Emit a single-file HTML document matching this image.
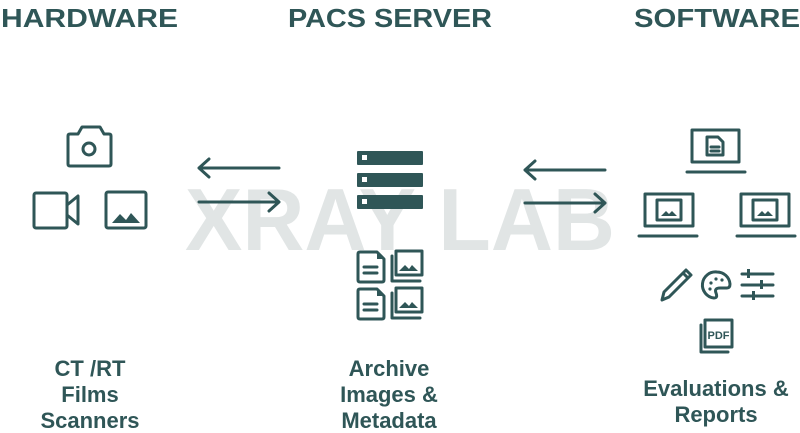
<!DOCTYPE html>
<html><head><meta charset="utf-8"><style>
html,body{margin:0;padding:0;background:#fff;}
svg{display:block;}
text{font-family:"Liberation Sans Narrow","Liberation Sans",sans-serif;font-weight:bold;fill:#2f5657;}
</style></head><body>
<svg width="800" height="433" viewBox="0 0 800 433" xmlns="http://www.w3.org/2000/svg">
<text x="185" y="250" font-size="88" textLength="430" lengthAdjust="spacingAndGlyphs" style="fill:#e1e5e5;font-family:'Liberation Sans',sans-serif">XRAY LAB</text>
<text x="1" y="27" font-size="26" textLength="177" lengthAdjust="spacingAndGlyphs">HARDWARE</text>
<text x="288" y="27" font-size="26" textLength="204" lengthAdjust="spacingAndGlyphs">PACS SERVER</text>
<text x="634" y="27" font-size="26" textLength="166" lengthAdjust="spacingAndGlyphs">SOFTWARE</text>
<g font-size="22" text-anchor="middle">
<text x="90" y="376">CT /RT</text>
<text x="90" y="402">Films</text>
<text x="90" y="428">Scanners</text>
<text x="389" y="376">Archive</text>
<text x="389" y="402">Images &amp;</text>
<text x="389" y="428">Metadata</text>
<text x="716" y="396">Evaluations &amp;</text>
<text x="716" y="422">Reports</text>
</g>
<g fill="none" stroke="#2f5657" stroke-width="3" stroke-linecap="round" stroke-linejoin="round">
<path d="M70 134 H78 L82 127 H100 L104 134 H109 Q111 134 111 136 V164 Q111 166 109 166 H70 Q68 166 68 164 V136 Q68 134 70 134Z"/>
<circle cx="89" cy="149" r="6"/>
<rect x="34" y="193" width="33" height="35" rx="2"/>
<path d="M67 205 L78 196 V224 L67 215"/>
<rect x="106" y="192" width="40" height="36" rx="2"/>
<path d="M279 168 H199 M209 159 L199 168 L209 177"/>
<path d="M199 202 H279 M269 193 L279 202 L269 211"/>
<path d="M605 170 H525 M535 161 L525 170 L535 179"/>
<path d="M525 203 H605 M595 194 L605 203 L595 212"/>
<path d="M360 252 H377 L384 259 V280 Q384 282 382 282 H360 Q358 282 358 280 V254 Q358 252 360 252Z"/>
<path d="M364 267 H377 M364 273 H377"/>
<path d="M360 289 H377 L384 296 V317 Q384 319 382 319 H360 Q358 319 358 317 V291 Q358 289 360 289Z"/>
<path d="M364 304 H377 M364 310 H377"/>
<rect x="396" y="251" width="26" height="24"/>
<path d="M392 256 V281 H420"/>
<rect x="396" y="288" width="26" height="24"/>
<path d="M392 293 V318 H420"/>
<rect x="692" y="130" width="47" height="32"/>
<path d="M687 172 H745"/>
<path d="M707 137 H718 L723 142 V155 H707Z"/>
<path d="M711 147 H719 M711 151 H719"/>
<rect x="645" y="194" width="48" height="32"/>
<path d="M639 236 H697"/>
<rect x="657" y="200" width="24" height="20"/>
<rect x="741" y="194" width="48" height="32"/>
<path d="M737 236 H795"/>
<rect x="753" y="200" width="24" height="20"/>
<path d="M662 300 L664 292 L686 270 L691 275 L669 297 Z M683 273 L688 278"/>
<path d="M717 272 A13 13 0 1 0 714 298 Q718 298 716 293 Q714 288 720 288 H727 Q730 288 730 284 A13 13 0 0 0 717 272Z"/>
<path d="M742 274 H773 M742 285 H773 M742 296 H773"/>
<rect x="705" y="320" width="27" height="27"/>
<path d="M701 325 V352 H728"/>
</g>
<g fill="#2f5657">
<rect x="357" y="151" width="66" height="14" rx="1"/>
<rect x="357" y="173" width="66" height="14" rx="1"/>
<rect x="357" y="195" width="66" height="14" rx="1"/>
<path d="M112 223 L120 214 L126 220 L131 213 L140 223Z"/>
<path d="M399 271 L405 265 L409 269 L412 265 L418 271Z"/>
<path d="M399 308 L405 302 L409 306 L412 302 L418 308Z"/>
<path d="M661 216 L666 211 L669 214 L672 211 L677 216Z"/>
<path d="M757 216 L762 211 L765 214 L768 211 L773 216Z"/>
<path d="M377 252 V259 H384Z"/>
<path d="M377 289 V296 H384Z"/>
<rect x="747" y="269" width="3" height="9"/><rect x="760" y="280" width="3" height="9"/><rect x="752" y="291" width="3" height="9"/>
<circle cx="711" cy="283" r="1.6"/><circle cx="716" cy="279" r="1.6"/><circle cx="722" cy="280" r="1.6"/><circle cx="710" cy="289" r="1.6"/>
</g>
<g fill="#fff"><rect x="362" y="155" width="5" height="5"/><rect x="362" y="177" width="5" height="5"/><rect x="362" y="199" width="5" height="5"/></g>
<text x="718.5" y="339" font-size="11" text-anchor="middle" style="font-family:'Liberation Sans',sans-serif">PDF</text>
</svg>
</body></html>
